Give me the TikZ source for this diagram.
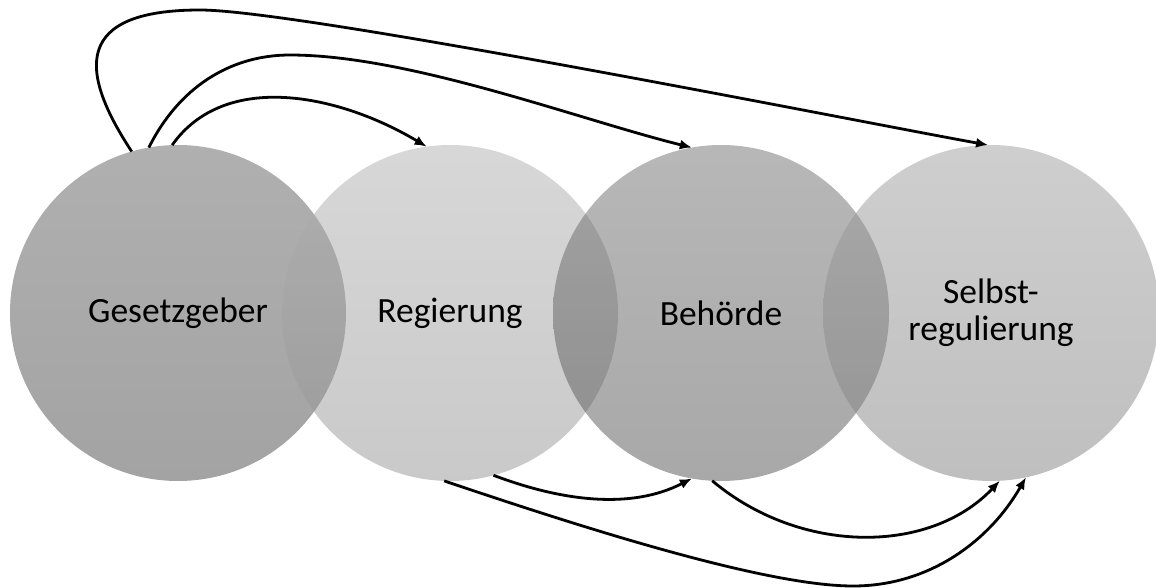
\documentclass[tikz,border=0pt]{standalone}
\usepackage{fontspec}
\setmainfont{Carlito}
\usetikzlibrary{arrows.meta}

\definecolor{gesetzTop}{gray}{0.38}
\definecolor{gesetzBot}{gray}{0.28}
\definecolor{regTop}{gray}{0.69}
\definecolor{regBot}{gray}{0.58}
\definecolor{behTop}{gray}{0.44}
\definecolor{behBot}{gray}{0.32}
\definecolor{selbstTop}{gray}{0.62}
\definecolor{selbstBot}{gray}{0.50}

\begin{document}
\begin{tikzpicture}[x=0.75pt,y=-0.75pt,
    stage/.style={circle, minimum size=252pt, inner sep=0pt, outer sep=0pt,
      fill opacity=0.5, text opacity=1, align=center,
      font=\fontsize{26.6}{27.75}\selectfont},
    link/.style={-{Latex[length=9pt,width=7.5pt]}, line width=2.1pt}]
   \useasboundingbox (0,0) rectangle (1156,588);

   % the four circles
   \node[stage, top color=gesetzTop, bottom color=gesetzBot] (gesetz) at (178,313) {Gesetzgeber};
   \node[stage, top color=regTop, bottom color=regBot] (regierung) at (450,313) {Regierung};
   \node[stage, top color=behTop, bottom color=behBot] (behoerde) at (721,313) {Behörde};
   \node[stage, top color=selbstTop, bottom color=selbstBot] (selbst) at (991,313) {Selbst-\\regulierung};

   % bends of the long arcs
   \coordinate (outerbend) at (200,10);
   \coordinate (midbend) at (290,55);
   \coordinate (lowbend) at (853,586);

   % arcs above
   \draw[link] (gesetz.106) .. controls +(-54,-82) and +(-125,0) .. (outerbend)
      .. controls +(100,0) and +(-138,-25) .. (selbst.91);
   \draw[link] (gesetz.100) .. controls +(30,-60) and +(-60,0) .. (midbend)
      .. controls +(120,0) and +(-110,-27) .. (behoerde.100);
   \draw[link] (gesetz.92) .. controls +(53,-75) and +(-87,-52) .. (regierung.98);

   % arcs below
   \draw[link] (regierung.-75) .. controls +(66,25) and +(-62,32) .. (behoerde.-100);
   \draw[link] (regierung.-92) .. controls +(116,39) and +(-93,0) .. (lowbend)
      .. controls +(77,0) and +(-36,63) .. (selbst.-78);
   \draw[link] (behoerde.-93) .. controls +(88,74) and +(-70,74) .. (selbst.-87);
\end{tikzpicture}
\end{document}
